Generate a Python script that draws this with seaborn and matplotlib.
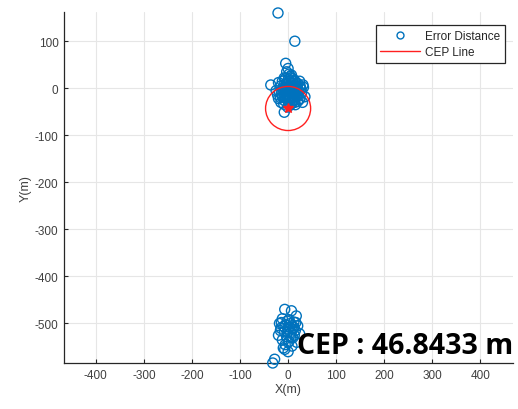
import matplotlib
matplotlib.use("Agg")
import matplotlib.pyplot as plt
from matplotlib.patches import Circle
from matplotlib.lines import Line2D
import seaborn as sns
import pandas as pd

# Position error of each fix relative to the true location (metres)
err_x = [-21, 14, -5, -36, 31, -8,
         -3, 2, 5, -8, 10, 0, -12, 15, 6, -4, 20, 25, 12, -15, 3, -6, 18, 8,
         -10, 0, 22, 14, -18, 5, -5, 28, 10, -12, 18, 2, -20, 25, 12, -8, 0,
         20, -15, 8, 30, -3, 16, -8, 7, -2, 11, 4, -14, 24, 0, -20, 15, -1,
         9, -25, 35,
         -6, 3, 13, 19, -11, -2, 7, 16, 27, -16, 1, 9, 21, -9, 4, 12, -4,
         17, 6, -13, 26, 14, -7, 3, 10, 32, -22, -1, 23,
         -7, 7, 17, -12, 2, 12, -18, -5, 8, 20, -15, 0, 15, -8, 5, 24, -20,
         -3, 10, -12, 2, 18, -6, 8, -10, 0, -7, -28, -32, 5, -2, 13,
         -14, 3, 10, -9, 16, -1, 6, -16, 12, 0]
err_y = [160, 100, 53, 7, 7, -51,
         35, 30, 25, 22, 20, 18, 15, 14, 12, 10, 10, 5, 6, 5, 4, 2, 0, -2,
         -3, -5, -5, -8, -8, -10, -12, -10, -15, -18, -18, -20, -22, -22, -25,
         -26, -28, -28, -30, -32, -30, -15, -2, 8, 28, -22, 2, -6, -12, 15, 42,
         12, -35, 0, -27, -5, -18,
         20, 16, 17, 3, 0, -8, -10, -12, -2, -20, -24, -20, -14, -34, -36,
         -3, 5, 8, 22, -6, 0, -30, -18, -2, 10, 2, -14, -40, -24,
         -470, -473, -484, -490, -492, -497, -500, -503, -505, -505, -510,
         -512, -515, -518, -520, -522, -525, -528, -530, -535, -538, -540,
         -545, -548, -552, -560, -555, -576, -584, -500, -495, -525,
         -498, -508, -512, -506, -498, -518, -530, -515, -508, -540]

# Circular error probable: centre of the error cloud and radius
cep_center = (0.0, -43.0)
cep_radius = 46.8433

x_ticks = [-400, -300, -200, -100, 0, 100, 200, 300, 400]
y_ticks = [-500, -400, -300, -200, -100, 0, 100]

df = pd.DataFrame({"X": err_x, "Y": err_y})

sns.set_theme(style="whitegrid")
plt.rcParams["font.family"] = ["Liberation Sans", "DejaVu Sans"]
plt.rcParams["axes.unicode_minus"] = False

blue = "#0072BD"
fig = plt.figure(figsize=(5.18, 4.10), dpi=100)
ax = fig.add_axes([0.1236, 0.1122, 0.867, 0.856])

sns.scatterplot(data=df, x="X", y="Y", ax=ax, marker="o", s=52,
                facecolor="none", edgecolor=blue, linewidth=1.0,
                clip_on=False, zorder=3)

ax.add_patch(Circle(cep_center, cep_radius, fill=False, edgecolor="#ff2020",
                    linewidth=1.0, zorder=4))
ax.plot([cep_center[0]], [cep_center[1]], marker="*", color="#ff2020",
        markersize=7, linestyle="none", zorder=5)

ax.set_xlim(-466, 468)
ax.set_ylim(-584, 162)
ax.set_xticks(x_ticks)
ax.set_yticks(y_ticks)
ax.set_xlabel("X(m)", fontsize=9, color="#404040", labelpad=2)
ax.set_ylabel("Y(m)", fontsize=9, color="#404040", labelpad=2)
ax.tick_params(axis="both", labelsize=8.5, labelcolor="#404040", direction="in",
               length=3, width=0.8, color="#262626", pad=4)
ax.tick_params(axis="x", bottom=True)
ax.tick_params(axis="y", left=True)

ax.grid(True, color="#e6e6e6", linewidth=0.8)
ax.set_facecolor("white")
for side in ("top", "right"):
    ax.spines[side].set_visible(False)
for side in ("left", "bottom"):
    ax.spines[side].set_color("#262626")
    ax.spines[side].set_linewidth(0.9)

handles = [
    Line2D([], [], marker="o", linestyle="none", markerfacecolor="none",
           markeredgecolor=blue, markersize=5, markeredgewidth=1.0),
    Line2D([], [], color="#ff2020", linewidth=1.0),
]
leg = ax.legend(handles, ["Error Distance", "CEP Line"], loc="upper right",
                bbox_to_anchor=(0.982, 0.963), fontsize=8.5, frameon=True,
                fancybox=False, edgecolor="#262626", framealpha=1,
                borderpad=0.4, labelspacing=0.35, handlelength=3.4,
                handletextpad=0.4, borderaxespad=0)
leg.get_frame().set_linewidth(0.9)
for t in leg.get_texts():
    t.set_color("#262626")

fig.text(297 / 518, 1 - 354 / 410, f"CEP : {cep_radius:.4f} m",
         fontsize=20.5, fontweight="bold", color="black",
         family=["Open Sans", "DejaVu Sans"], ha="left", va="baseline",
         zorder=10)

fig.savefig("out.png", dpi=100)
